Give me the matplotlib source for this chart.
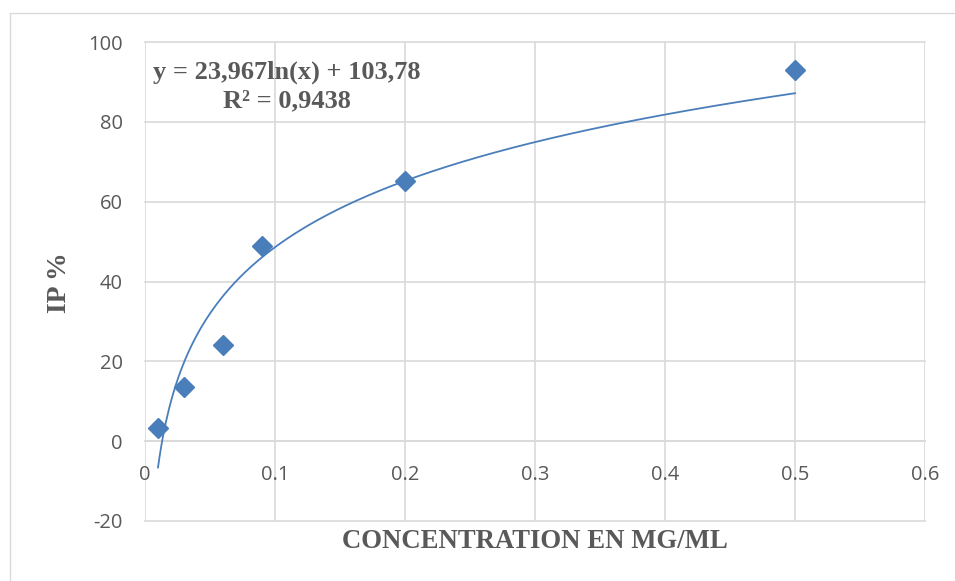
import matplotlib.pyplot as plt
import numpy as np
from matplotlib.patches import Rectangle

plt.rcParams["axes.unicode_minus"] = False

# Data
concentration = [0.01, 0.03, 0.06, 0.09, 0.2, 0.5]
ip_percent = [3.3, 13.5, 24.1, 49.0, 65.2, 92.9]

# Logarithmic trend line y = a ln(x) + b, as given on the chart
trend_a = 23.967
trend_b = 103.78
equation_lines = ["y = 23,967ln(x) + 103,78", "R² = 0,9438"]

x_ticks = [0, 0.1, 0.2, 0.3, 0.4, 0.5, 0.6]
y_ticks = [-20, 0, 20, 40, 60, 80, 100]

grid_color = "#d9d9d9"
text_color = "#595959"
blue = "#4a7ebb"

fig = plt.figure(figsize=(9.55, 5.81), dpi=100)
ax = fig.add_axes([145 / 955, 1 - 521 / 581, 780 / 955, 479 / 581])

# Outer chart border
fig.patches.append(
    Rectangle((10 / 955, -0.1), 2, 1 - 13 / 581 + 0.1, transform=fig.transFigure,
              fill=False, edgecolor=grid_color, linewidth=1.0)
)

t = np.linspace(concentration[0], concentration[-1], 400)
ax.plot(t, trend_a * np.log(t) + trend_b, color=blue, linewidth=1.3, zorder=3)
ax.plot(concentration, ip_percent, linestyle="none", marker="D", markersize=10,
        color=blue, zorder=4)

ax.set_xlim(0, 0.6)
ax.set_ylim(-20, 100)
ax.set_xticks(x_ticks)
ax.set_yticks(y_ticks)
ax.set_xticklabels([f"{v:g}" for v in x_ticks])
ax.grid(True, color=grid_color, linewidth=1.2)
ax.set_axisbelow(True)
for gl in ax.get_xgridlines() + ax.get_ygridlines():
    gl.set_clip_on(False)

for side in ["top", "right", "left"]:
    ax.spines[side].set_visible(False)
ax.spines["bottom"].set_position(("data", 0))
ax.spines["bottom"].set_color(grid_color)
ax.spines["bottom"].set_linewidth(1.2)
ax.tick_params(length=0, labelsize=14.5, labelcolor=text_color)
ax.tick_params(axis="x", pad=17)
ax.tick_params(axis="y", pad=16)
for lab in ax.get_xticklabels() + ax.get_yticklabels():
    lab.set_fontfamily("Open Sans")

fig.text(60 / 955, 1 - 283 / 581, "IP %", rotation=90, ha="center", va="center",
         fontsize=20, fontweight="bold", family="Liberation Serif", color=text_color)
fig.text(535 / 955, 1 - 541 / 581, "CONCENTRATION EN MG/ML", ha="center", va="center",
         fontsize=19.3, fontweight="bold", family="Liberation Serif", color=text_color)

fig.text(287 / 955, 1 - 72 / 581, equation_lines[0], ha="center", va="center",
         fontsize=19, fontweight="bold", family="Liberation Serif", color=text_color)
fig.text(287 / 955, 1 - 101 / 581, equation_lines[1], ha="center", va="center",
         fontsize=19, fontweight="bold", family="Liberation Serif", color=text_color)

fig.savefig("out.png", dpi=100)
